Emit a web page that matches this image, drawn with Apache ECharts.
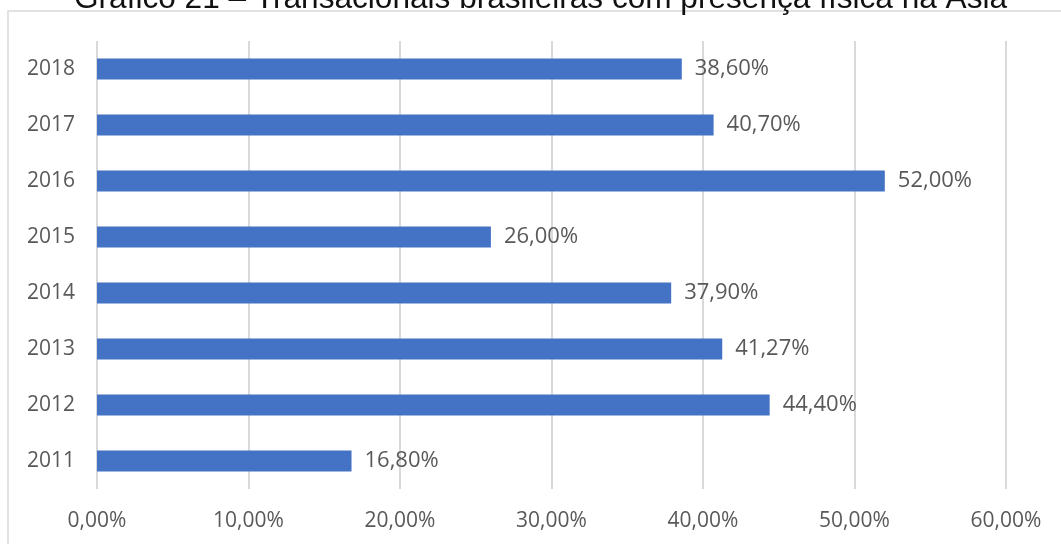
<!DOCTYPE html>
<html>
<head>
<meta charset="utf-8">
<script src="https://cdn.jsdelivr.net/npm/echarts@6/dist/echarts.min.js"></script>
<style>
html,body{margin:0;padding:0;background:#fff;}
#chart{width:1061px;height:544px;}
</style>
</head>
<body>
<div id="chart"></div>
<script>
const titleText = 'Gráfico 21 – Transacionais brasileiras com presença física na Ásia';
const categories = ['2011', '2012', '2013', '2014', '2015', '2016', '2017', '2018'];
const values = [16.8, 44.4, 41.27, 37.9, 26.0, 52.0, 40.7, 38.6];
const xMin = 0, xMax = 60, xInterval = 10;

function pct(v) { return Number(v).toFixed(2).replace('.', ',') + '%'; }

const chart = echarts.init(document.getElementById('chart'), null, {renderer: 'canvas'});
chart.setOption({
  animation: false,
  backgroundColor: '#ffffff',
  title: {
    text: titleText,
    left: 74,
    top: -17,
    padding: 0,
    textStyle: {fontFamily: 'Liberation Sans, Arial, sans-serif', fontSize: 31.6, fontWeight: 'normal', color: '#111111'}
  },
  graphic: [{
    type: 'rect', z: -10, silent: true,
    shape: {x: 8, y: 11, width: 1200, height: 700},
    style: {fill: 'none', stroke: '#d9d9d9', lineWidth: 1.5}
  }],
  grid: {left: 97, right: 55, top: 41, bottom: 55, containLabel: false},
  xAxis: {
    type: 'value', min: xMin, max: xMax, interval: xInterval,
    axisLine: {show: false}, axisTick: {show: false},
    splitLine: {show: true, lineStyle: {color: '#d9d9d9', width: 2}},
    axisLabel: {formatter: pct, margin: 22, color: '#595959', fontSize: 21, fontFamily: 'Open Sans, sans-serif'}
  },
  yAxis: {
    type: 'category', data: categories,
    axisLine: {show: false}, axisTick: {show: false},
    axisLabel: {margin: 22, color: '#595959', fontSize: 21, fontFamily: 'Open Sans, sans-serif'}
  },
  series: [{
    type: 'bar', data: values, barWidth: 21,
    itemStyle: {color: '#4472c4'},
    label: {show: true, position: 'right', distance: 13, formatter: p => pct(p.value), color: '#595959', fontSize: 22, fontFamily: 'Open Sans, sans-serif'}
  }]
});
</script>
</body>
</html>
